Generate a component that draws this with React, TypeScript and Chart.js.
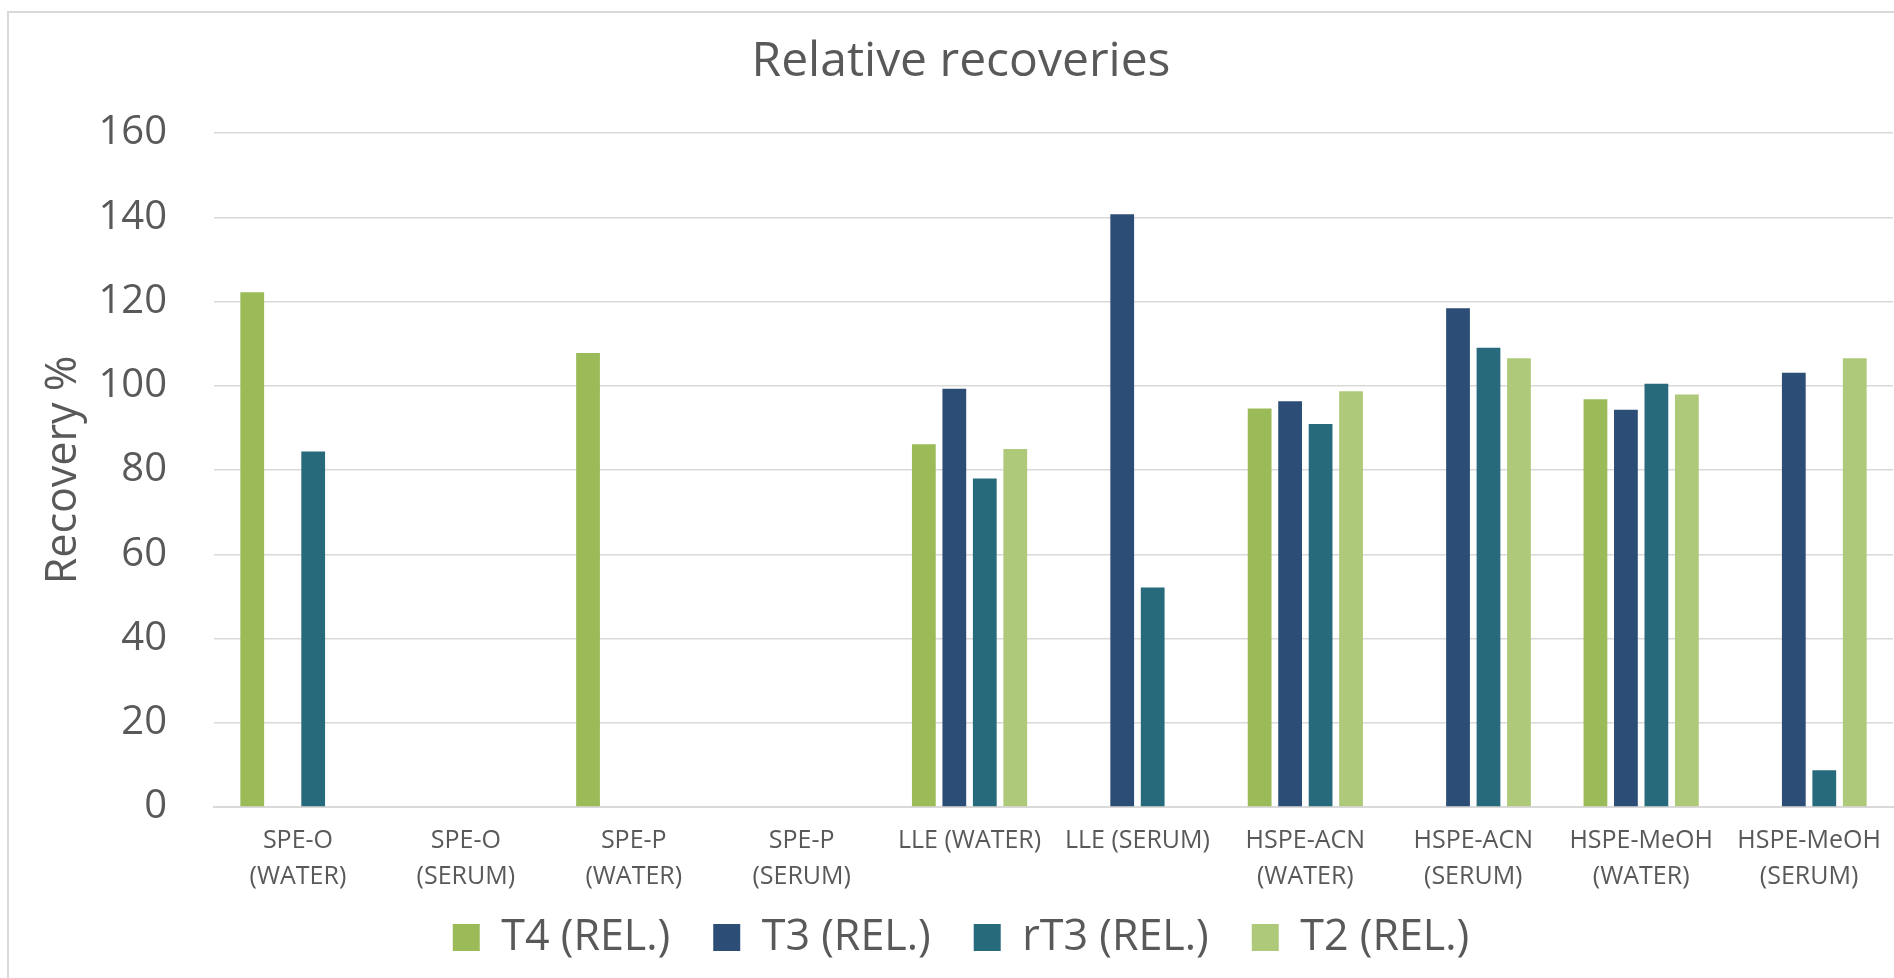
import React, { useEffect, useRef } from "react";
import { Chart, registerables } from "chart.js";

Chart.register(...registerables);

const categories: (string | string[])[] = [
  ["SPE-O", "(WATER)"],
  ["SPE-O", "(SERUM)"],
  ["SPE-P", "(WATER)"],
  ["SPE-P", "(SERUM)"],
  "LLE (WATER)",
  "LLE (SERUM)",
  ["HSPE-ACN", "(WATER)"],
  ["HSPE-ACN", "(SERUM)"],
  ["HSPE-MeOH", "(WATER)"],
  ["HSPE-MeOH", "(SERUM)"],
];

const t4Values = [122.2, null, 107.8, null, 86.1, null, 94.6, null, 96.8, null];
const t3Values = [null, null, null, null, 99.3, 140.7, 96.3, 118.4, 94.3, 103.1];
const rt3Values = [84.4, null, null, null, 78.0, 52.1, 90.9, 109.0, 100.5, 8.7];
const t2Values = [null, null, null, null, 85.0, null, 98.7, 106.5, 97.9, 106.5];

const seriesLabels = ["T4 (REL.)", "T3 (REL.)", "rT3 (REL.)", "T2 (REL.)"];
const seriesColors = ["#9BBB59", "#2C4D75", "#276A7C", "#AFC97A"];

const yMin = 0;
const yMax = 160;
const yStep = 20;

const FONT = "'Open Sans', 'Noto Sans', sans-serif";
const TEXT = "#595959";
const GRID = "#d9d9d9";

const CANVAS_W = 1910;
const CANVAS_H = 1011;
const LEGEND_SHIFT = 44;

const legendShift = {
  id: "legendShift",
  afterLayout(chart: any) {
    const l = chart.legend;
    if (l) {
      l.top -= LEGEND_SHIFT;
      l.bottom -= LEGEND_SHIFT;
    }
  },
};

export default function App() {
  const canvasRef = useRef<HTMLCanvasElement | null>(null);

  useEffect(() => {
    if (!canvasRef.current) return;
    const values = [t4Values, t3Values, rt3Values, t2Values];
    const chart = new Chart(canvasRef.current, {
      type: "bar",
      data: {
        labels: categories,
        datasets: values.map((v, i) => ({
          label: seriesLabels[i],
          data: v,
          backgroundColor: seriesColors[i],
          borderWidth: 0,
          categoryPercentage: 0.726,
          barPercentage: 0.78,
        })),
      },
      plugins: [legendShift],
      options: {
        responsive: false,
        animation: false,
        layout: { padding: { left: 20, right: 26, top: 0, bottom: 11 } },
        plugins: {
          title: {
            display: true,
            text: "Relative recoveries",
            color: TEXT,
            font: { family: FONT, size: 48, weight: "normal" },
            padding: { top: 21, bottom: 41.4 },
          },
          legend: {
            position: "bottom",
            labels: {
              boxWidth: 27,
              boxHeight: 27,
              padding: 43,
              color: TEXT,
              font: { family: FONT, size: 43 },
            },
          },
          tooltip: { enabled: false },
        },
        scales: {
          x: {
            grid: { display: false, drawTicks: false },
            border: { display: true, color: GRID, width: 2 },
            ticks: {
              color: TEXT,
              font: { family: FONT, size: 25, lineHeight: 1.424 },
              padding: 16,
              maxRotation: 0,
              autoSkip: false,
            },
            afterFit: (s: any) => {
              s.height = 110;
            },
          },
          y: {
            min: yMin,
            max: yMax,
            ticks: {
              stepSize: yStep,
              color: TEXT,
              font: { family: FONT, size: 40 },
              padding: 47,
            },
            grid: { color: GRID, lineWidth: 1.5, drawTicks: false },
            border: { display: false },
            title: {
              display: true,
              text: "Recovery %",
              color: TEXT,
              font: { family: FONT, size: 43 },
              padding: { top: 9, bottom: 0 },
            },
            afterFit: (s: any) => {
              s.width = 185;
            },
          },
        },
      },
    });
    return () => chart.destroy();
  }, []);

  return (
    <div
      style={{
        position: "fixed",
        left: 0,
        top: 0,
        width: 1894,
        height: 978,
        overflow: "hidden",
        background: "#ffffff",
      }}
    >
      <div
        style={{
          position: "absolute",
          left: 7,
          top: 11,
          width: 1930,
          height: 1030,
          border: "2px solid #d9d9d9",
          boxSizing: "content-box",
          background: "#ffffff",
        }}
      >
        <canvas
          ref={canvasRef}
          width={CANVAS_W}
          height={CANVAS_H}
          style={{ display: "block", width: CANVAS_W, height: CANVAS_H }}
        />
      </div>
    </div>
  );
}
